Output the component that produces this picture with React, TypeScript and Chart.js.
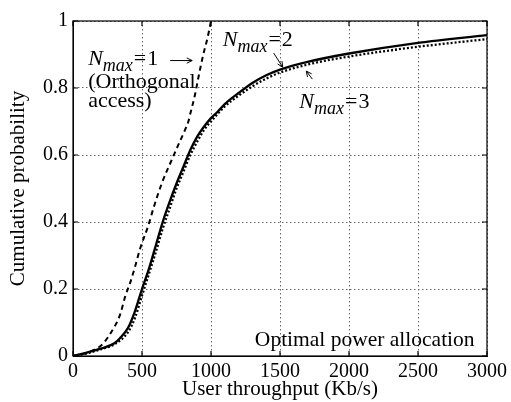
import React, { useEffect, useRef } from "react";
import { Chart, registerables } from "chart.js";

Chart.register(...registerables);

// Nmax = 1 (orthogonal access) - dashed
const n1X = [0, 100, 200, 230, 280, 340, 380, 413, 450, 486, 546, 582, 643, 715, 763, 812, 836, 848, 884, 908, 944, 975, 1000];
const n1Y = [0, 0.01, 0.03, 0.043, 0.073, 0.122, 0.18, 0.217, 0.267, 0.32, 0.39, 0.44, 0.515, 0.585, 0.63, 0.675, 0.7, 0.72, 0.78, 0.83, 0.9, 0.95, 1.0];

// Nmax = 2 - solid
const n2X = [0, 100, 200, 300, 340, 400, 450, 500, 550, 600, 650, 700, 750, 800, 850, 900, 950, 1000, 1050, 1100, 1200, 1300, 1400, 1500, 1700, 2000, 2500, 3000];
const n2Y = [0, 0.01, 0.022, 0.038, 0.053, 0.085, 0.135, 0.2, 0.26, 0.33, 0.4, 0.46, 0.515, 0.565, 0.615, 0.655, 0.685, 0.71, 0.73, 0.752, 0.785, 0.815, 0.838, 0.855, 0.878, 0.903, 0.935, 0.958];

// Nmax = 3 - dotted
const n3X = [0, 100, 200, 300, 400, 450, 500, 550, 600, 650, 700, 750, 800, 850, 900, 950, 1000, 1100, 1200, 1300, 1400, 1500, 1700, 2000, 2500, 3000];
const n3Y = [0, 0.008, 0.02, 0.035, 0.072, 0.115, 0.18, 0.245, 0.31, 0.38, 0.44, 0.5, 0.55, 0.6, 0.64, 0.675, 0.7, 0.745, 0.777, 0.805, 0.828, 0.846, 0.87, 0.894, 0.923, 0.946];

const xTicks = [0, 500, 1000, 1500, 2000, 2500, 3000];
const yTicks = [0, 0.2, 0.4, 0.6, 0.8, 1];

const FONT = "'Liberation Serif'";

const toPts = (xs: number[], ys: number[]) => xs.map((x, i) => ({ x, y: ys[i] }));

function drawNmax(ctx: CanvasRenderingContext2D, x: number, y: number, val: string) {
  ctx.save();
  ctx.fillStyle = "#000";
  ctx.textAlign = "left";
  ctx.textBaseline = "alphabetic";
  ctx.font = `italic 22px ${FONT}`;
  ctx.fillText("N", x, y);
  let cx = x + ctx.measureText("N").width;
  ctx.font = `italic 18px ${FONT}`;
  ctx.fillText("max", cx, y + 6);
  cx += ctx.measureText("max").width + 1;
  ctx.font = `22px ${FONT}`;
  ctx.fillText("=", cx, y);
  cx += ctx.measureText("=").width + 1;
  ctx.fillText(val, cx, y);
  ctx.restore();
}

function arrow(ctx: CanvasRenderingContext2D, x1: number, y1: number, x2: number, y2: number) {
  ctx.save();
  ctx.strokeStyle = "#000";
  ctx.lineWidth = 1;
  ctx.beginPath();
  ctx.moveTo(x1, y1);
  ctx.lineTo(x2, y2);
  const a = Math.atan2(y2 - y1, x2 - x1);
  const h = 6;
  ctx.moveTo(x2, y2);
  ctx.lineTo(x2 - h * Math.cos(a - 0.45), y2 - h * Math.sin(a - 0.45));
  ctx.moveTo(x2, y2);
  ctx.lineTo(x2 - h * Math.cos(a + 0.45), y2 - h * Math.sin(a + 0.45));
  ctx.stroke();
  ctx.restore();
}

const framePlugin = {
  id: "frame",
  afterDraw(chart: any) {
    const { ctx, chartArea: a, scales } = chart;
    const xs = scales.x;
    const ys = scales.y;
    ctx.save();
    ctx.setLineDash([]);
    ctx.strokeStyle = "#000";
    ctx.lineWidth = 1.2;
    ctx.strokeRect(a.left, a.top, a.right - a.left, a.bottom - a.top);
    ctx.beginPath();
    xTicks.forEach((v) => {
      const px = xs.getPixelForValue(v);
      ctx.moveTo(px, a.bottom);
      ctx.lineTo(px, a.bottom - 5);
      ctx.moveTo(px, a.top);
      ctx.lineTo(px, a.top + 5);
    });
    yTicks.forEach((v) => {
      const py = ys.getPixelForValue(v);
      ctx.moveTo(a.left, py);
      ctx.lineTo(a.left + 5, py);
      ctx.moveTo(a.right, py);
      ctx.lineTo(a.right - 5, py);
    });
    ctx.stroke();
    ctx.restore();

    const P = (x: number, y: number) => [xs.getPixelForValue(x), ys.getPixelForValue(y)];

    // Nmax = 1 annotation
    let [x, y] = P(110, 0.87);
    drawNmax(ctx, x, y, "1");
    ctx.save();
    ctx.font = `22px ${FONT}`;
    ctx.fillStyle = "#000";
    ctx.textAlign = "left";
    ctx.fillText("(Orthogonal", x, y + 23);
    ctx.fillText("access)", x, y + 42);
    ctx.restore();
    arrow(ctx, x + 82, y - 4, x + 104, y - 4);

    // Nmax = 2
    [x, y] = P(1085, 0.925);
    drawNmax(ctx, x, y, "2");
    arrow(ctx, x + 51, y + 7, x + 60, y + 21);

    // Nmax = 3
    [x, y] = P(1640, 0.74);
    drawNmax(ctx, x, y, "3");
    arrow(ctx, x + 13, y - 29, x + 7, y - 37);

    // Optimal power allocation
    [x, y] = P(2910, 0.03);
    ctx.save();
    ctx.font = `21.5px ${FONT}`;
    ctx.fillStyle = "#000";
    ctx.textAlign = "right";
    ctx.fillText("Optimal power allocation", x, y);
    ctx.restore();
  },
};

export default function App() {
  const ref = useRef<HTMLCanvasElement>(null);
  useEffect(() => {
    if (!ref.current) return;
    const gridCfg = {
      color: "#666",
      lineWidth: 1,
      tickLength: 0,
      drawTicks: false,
    };
    const chart = new Chart(ref.current, {
      type: "line",
      data: {
        datasets: [
          {
            label: "Nmax=1",
            data: toPts(n1X, n1Y),
            borderColor: "#000",
            borderWidth: 2,
            borderDash: [5, 4],
            pointRadius: 0,
            cubicInterpolationMode: "monotone",
            fill: false,
          },
          {
            label: "Nmax=2",
            data: toPts(n2X, n2Y),
            borderColor: "#000",
            borderWidth: 2.3,
            pointRadius: 0,
            cubicInterpolationMode: "monotone",
            fill: false,
          },
          {
            label: "Nmax=3",
            data: toPts(n3X, n3Y),
            borderColor: "#000",
            borderWidth: 2.3,
            borderDash: [2, 2],
            pointRadius: 0,
            cubicInterpolationMode: "monotone",
            fill: false,
          },
        ],
      },
      options: {
        animation: false,
        responsive: false,
        layout: { padding: { top: 21, right: 24, left: 0, bottom: 0 } },
        plugins: { legend: { display: false }, tooltip: { enabled: false } },
        scales: {
          x: {
            type: "linear",
            min: 0,
            max: 3000,
            afterFit: (s: any) => {
              s.height = 46;
            },
            afterBuildTicks: (s: any) => {
              s.ticks = xTicks.map((v) => ({ value: v }));
            },
            ticks: {
              color: "#000",
              font: { family: FONT, size: 20 },
              padding: 4,
              maxRotation: 0,
              autoSkip: false,
              callback: (v: any) => String(Number(v)),
            },
            grid: { ...gridCfg },
            border: { display: true, color: "#000", dash: [1.5, 2.5] },
            title: {
              display: true,
              text: "User throughput (Kb/s)",
              color: "#000",
              font: { family: FONT, size: 21 },
              padding: { top: -8, bottom: 0 },
            },
          },
          y: {
            type: "linear",
            min: 0,
            max: 1,
            afterFit: (s: any) => {
              s.width = 73;
            },
            afterBuildTicks: (s: any) => {
              s.ticks = yTicks.map((v) => ({ value: v }));
            },
            ticks: {
              color: "#000",
              font: { family: FONT, size: 20 },
              padding: 5,
              autoSkip: false,
              callback: (v: any) => String(Number(v)),
            },
            grid: { ...gridCfg },
            border: { display: true, color: "#000", dash: [1.5, 2.5] },
            title: {
              display: true,
              text: "Cumulative probability",
              color: "#000",
              font: { family: FONT, size: 21 },
              padding: { top: 6, bottom: 0 },
            },
          },
        },
      },
      plugins: [framePlugin],
    } as any);
    return () => chart.destroy();
  }, []);
  return (
    <canvas
      ref={ref}
      width={511}
      height={402}
      style={{ position: "absolute", left: 0, top: 0, width: 511, height: 402, background: "#fff" }}
    />
  );
}
